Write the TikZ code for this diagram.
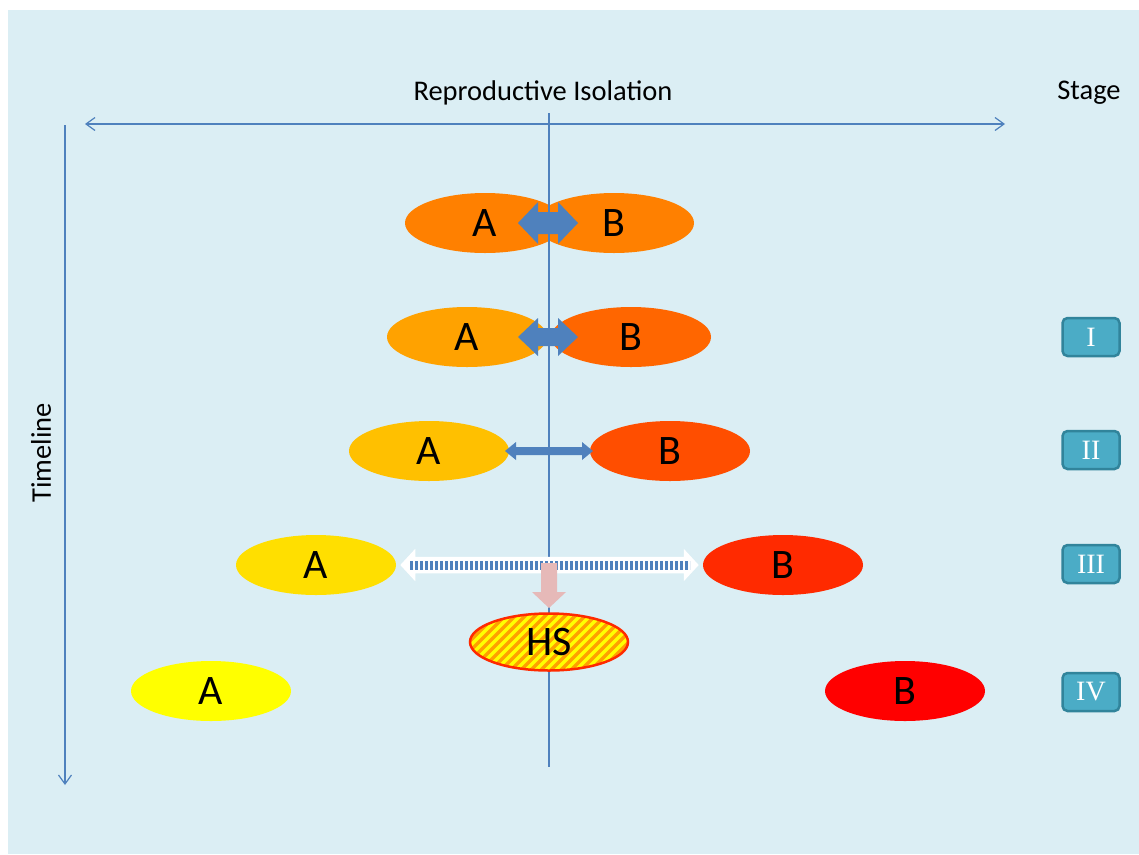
\documentclass[tikz,border=0pt]{standalone}
\usepackage{fontspec}
\setmainfont{Carlito}
\newfontfamily\romanfont{Liberation Serif}
\usetikzlibrary{shapes.geometric,arrows.meta}
\definecolor{bgblue}{HTML}{DBEEF4}
\definecolor{lineblue}{HTML}{4F81BD}
\definecolor{stagefill}{HTML}{4BACC6}
\definecolor{stageborder}{HTML}{31849B}
\definecolor{cOneA}{HTML}{FF8000}
\definecolor{cOneB}{HTML}{FF8000}
\definecolor{cTwoA}{HTML}{FFA200}
\definecolor{cTwoB}{HTML}{FF6600}
\definecolor{cThreeA}{HTML}{FFC000}
\definecolor{cThreeB}{HTML}{FF4E00}
\definecolor{cFourA}{HTML}{FFDF00}
\definecolor{cFourB}{HTML}{FF2A00}
\definecolor{cFiveA}{HTML}{FFFF00}
\definecolor{cFiveB}{HTML}{FF0000}
\definecolor{hsred}{HTML}{FF2A00}
\definecolor{hsorange}{HTML}{FFA000}
\definecolor{pinkarrow}{HTML}{E6B9B8}
\tikzset{
  axis/.style={draw=lineblue, line width=1.2pt},
  pop/.style={ellipse, minimum width=160pt, minimum height=60pt, inner sep=0pt,
    font=\fontsize{42}{50}\selectfont},
  stagebox/.style={rectangle, rounded corners=5pt, draw=stageborder, line width=2.5pt,
    fill=stagefill, minimum width=57pt, minimum height=38pt, text=white, inner sep=0pt,
    font=\romanfont\fontsize{28}{32}\selectfont},
  blockarrow/.style={fill=lineblue},
  headlabel/.style={font=\fontsize{28.5}{32}\selectfont, inner sep=0pt},
  stripe/.style={draw=hsorange, line width=3.5pt}
}
\begin{document}
\begin{tikzpicture}[x=1pt,y=-1pt]
\useasboundingbox (0,0) rectangle (1139,854);
\fill[bgblue] (8,10) rectangle (1139,854);

% labels
\node[headlabel] (ri) at (543,93) {Reproductive Isolation};
\node[headlabel] (stage) at (1089,93) {Stage};
\node[headlabel, rotate=90] (tl) at (41,453) {Timeline};

% axes
\coordinate (hL) at (85,124);
\coordinate (hR) at (1005,124);
\coordinate (vT) at (65,125);
\coordinate (vB) at (65,785);
\coordinate (cT) at (549,113);
\coordinate (cB) at (549,767);
\draw[axis, {Straight Barb[length=9pt,width=13pt]}-{Straight Barb[length=9pt,width=13pt]}] (hL) -- (hR);
\draw[axis, -{Straight Barb[length=9pt,width=13pt]}] (vT) -- (vB);

% row 1
\node[pop, fill=cOneA] (a1) at (485,223) {A};
\node[pop, fill=cOneB] (b1) at (614,223) {B};
\fill[blockarrow] (518,223) -- (538,202) -- (538,212) -- (558,212) -- (558,202) -- (578,223)
  -- (558,244) -- (558,234) -- (538,234) -- (538,244) -- cycle;

% row 2
\node[pop, fill=cTwoA] (a2) at (467,337) {A};
\node[pop, fill=cTwoB] (b2) at (631,337) {B};
\fill[blockarrow] (518,337) -- (538,318) -- (538,328) -- (558,328) -- (558,318) -- (578,337)
  -- (558,356) -- (558,346) -- (538,346) -- (538,356) -- cycle;

% row 3
\node[pop, fill=cThreeA] (a3) at (429,451) {A};
\node[pop, fill=cThreeB] (b3) at (670,451) {B};
\fill[blockarrow] (505,451) -- (516,442) -- (516,447) -- (582,447) -- (582,442) -- (593,451)
  -- (582,460) -- (582,455) -- (516,455) -- (516,460) -- cycle;

% centre line
\draw[axis] (cT) -- (cB);

% row 4
\node[pop, fill=cFourA] (a4) at (316,565) {A};
\node[pop, fill=cFourB] (b4) at (783,565) {B};
\draw[draw=white, fill=white, line width=2.5pt, line join=miter]
  (402,565) -- (414,552) -- (414,558) -- (685,558) -- (685,552) -- (697,565)
  -- (685,578) -- (685,572) -- (414,572) -- (414,578) -- cycle;
\coordinate (dL) at (410,565);
\coordinate (dR) at (690,565);
\draw[lineblue, line width=9pt, dash pattern=on 3pt off 2pt] (dL) -- (dR);

% hybrid arrow
\fill[pinkarrow] (541,563) -- (557,563) -- (557,592) -- (566,592) -- (549,608) -- (532,592) -- (541,592) -- cycle;

% hybrid species: yellow with orange diagonal stripes
\coordinate (hsc) at (549,642);
\fill[cFiveA] (hsc) ellipse [x radius=79pt, y radius=28.5pt];
\begin{scope}
  \clip (hsc) ellipse [x radius=79pt, y radius=28.5pt];
  \foreach \i in {-12,...,12}
    \draw[stripe] ([xshift=\i*10pt-40pt, yshift=-40pt]hsc) -- ([xshift=\i*10pt+40pt, yshift=40pt]hsc);
\end{scope}
\node[pop, minimum width=158pt, minimum height=57pt, draw=hsred, line width=2.5pt] (hs) at (hsc) {HS};

% row 5
\node[pop, fill=cFiveA] (a5) at (211,691) {A};
\node[pop, fill=cFiveB] (b5) at (905,691) {B};

% stages
\node[stagebox] (s1) at (1091,337) {I};
\node[stagebox] (s2) at (1091,450) {II};
\node[stagebox] (s3) at (1091,564) {III};
\node[stagebox] (s4) at (1091,692) {IV};
\end{tikzpicture}
\end{document}
